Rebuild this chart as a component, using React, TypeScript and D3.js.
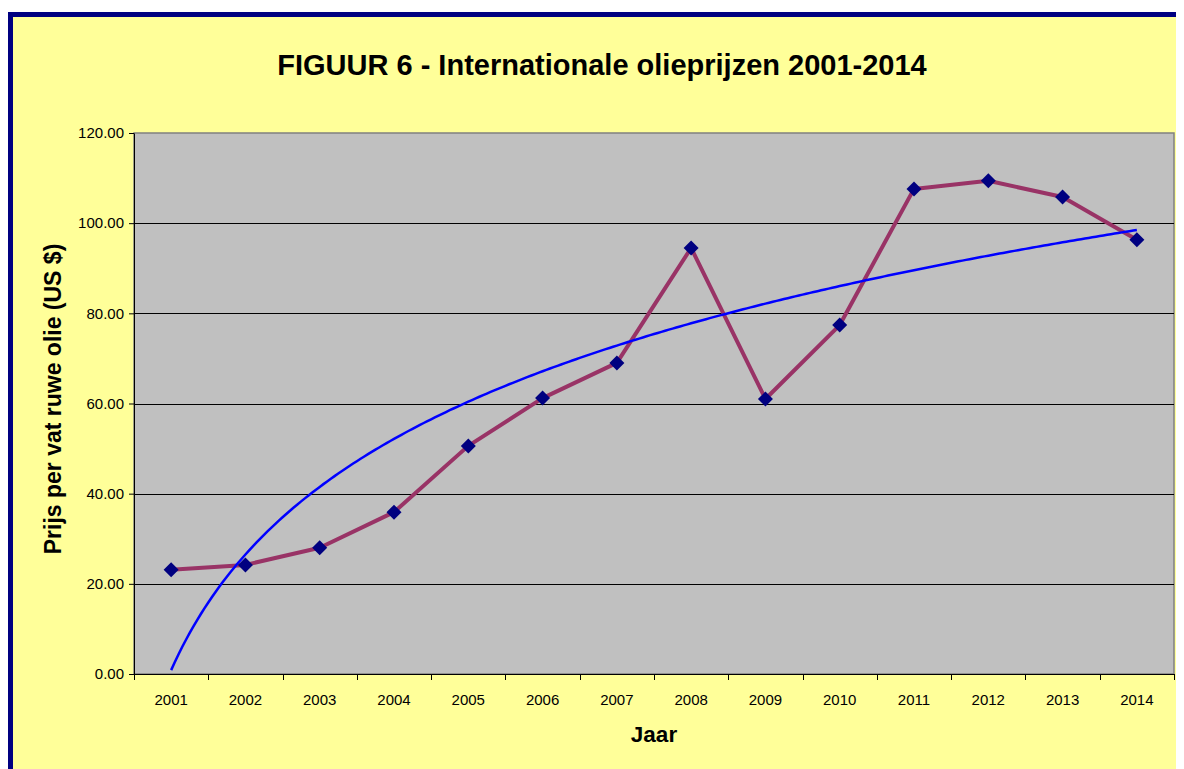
import * as d3 from "d3";
import React, { useEffect, useRef } from "react";

// data
const years = ["2001", "2002", "2003", "2004", "2005", "2006", "2007", "2008", "2009", "2010", "2011", "2012", "2013", "2014"];
const prices = [23.1, 24.2, 28.0, 35.9, 50.6, 61.2, 69.0, 94.5, 61.0, 77.4, 107.6, 109.4, 105.8, 96.3];
const yTicks = [0, 20, 40, 60, 80, 100, 120];

export default function App() {
  const svgRef = useRef<SVGSVGElement>(null);

  useEffect(() => {
    const W = 1176;
    const H = 761;
    const svg = d3.select(svgRef.current).attr("width", W).attr("height", H);
    svg.selectAll("*").remove();

    const font = "Liberation Sans, Arial, sans-serif";
    // page coords minus 8px body margin
    const margin = { top: 125, left: 126 };
    const width = 1040;
    const height = 541;

    // background + frame (right/bottom edges run off the page)
    svg.append("rect")
      .attr("x", 2.5).attr("y", 6.5)
      .attr("width", W + 20).attr("height", H + 20)
      .attr("fill", "#FFFF99")
      .attr("stroke", "#000080")
      .attr("stroke-width", 5);

    svg.append("text")
      .attr("x", 594).attr("y", 67)
      .attr("text-anchor", "middle")
      .attr("font-family", font)
      .attr("font-weight", "bold")
      .attr("font-size", "29px")
      .text("FIGUUR 6 - Internationale olieprijzen 2001-2014");

    const g = svg.append("g").attr("transform", `translate(${margin.left},${margin.top})`);

    const x = d3.scaleBand().domain(years).range([0, width]).padding(0);
    const y = d3.scaleLinear().domain([0, 120]).range([height, 0]);
    const cx = (i: number) => (x(years[i]) as number) + x.bandwidth() / 2;

    g.append("rect")
      .attr("width", width).attr("height", height)
      .attr("fill", "#C0C0C0")
      .attr("stroke", "#808080")
      .attr("stroke-width", 1.5);

    // grid lines
    g.selectAll(".grid")
      .data(yTicks.filter((d) => d > 0 && d < 120))
      .enter()
      .append("line")
      .attr("x1", 0).attr("x2", width)
      .attr("y1", (d) => Math.round(y(d)) + 0.5)
      .attr("y2", (d) => Math.round(y(d)) + 0.5)
      .attr("stroke", "#000000")
      .attr("stroke-width", 1);

    // y axis
    const yAxis = g.append("g")
      .call(d3.axisLeft(y).tickValues(yTicks).tickFormat((d) => (d as number).toFixed(2)).tickSize(5).tickPadding(5));
    yAxis.select(".domain").attr("stroke", "#000").attr("d", `M0.5,0.5V${height}`);
    yAxis.selectAll("line").attr("stroke", "#000");
    yAxis.selectAll("text")
      .attr("font-family", font)
      .attr("font-size", "15px")
      .attr("fill", "#000");

    // x axis: ticks on category boundaries
    const xAxis = g.append("g").attr("transform", `translate(0,${height})`);
    xAxis.append("line")
      .attr("x1", 0).attr("x2", width).attr("y1", 0.5).attr("y2", 0.5)
      .attr("stroke", "#000");
    xAxis.selectAll(".tk")
      .data(d3.range(years.length + 1))
      .enter()
      .append("line")
      .attr("x1", (i) => Math.round(i * x.bandwidth()) + 0.5)
      .attr("x2", (i) => Math.round(i * x.bandwidth()) + 0.5)
      .attr("y1", 0).attr("y2", 6)
      .attr("stroke", "#000");
    xAxis.selectAll(".lbl")
      .data(years)
      .enter()
      .append("text")
      .attr("x", (d, i) => cx(i))
      .attr("y", 31)
      .attr("text-anchor", "middle")
      .attr("font-family", font)
      .attr("font-size", "15px")
      .text((d) => d);

    // axis titles
    svg.append("text")
      .attr("x", 646).attr("y", 734)
      .attr("text-anchor", "middle")
      .attr("font-family", font)
      .attr("font-weight", "bold")
      .attr("font-size", "22.5px")
      .text("Jaar");

    svg.append("text")
      .attr("transform", `translate(53,391) rotate(-90)`)
      .attr("text-anchor", "middle")
      .attr("font-family", font)
      .attr("font-weight", "bold")
      .attr("font-size", "23px")
      .text("Prijs per vat ruwe olie (US $)");

    // price line
    const line = d3.line<number>()
      .x((d, i) => cx(i))
      .y((d) => y(d));

    g.append("path")
      .datum(prices)
      .attr("fill", "none")
      .attr("stroke", "#993366")
      .attr("stroke-width", 4)
      .attr("stroke-linejoin", "round")
      .attr("d", line);

    // logarithmic trend line (least squares on ln(index))
    const lx = prices.map((d, i) => Math.log(i + 1));
    const mx = d3.mean(lx) as number;
    const my = d3.mean(prices) as number;
    const b = d3.sum(lx, (v, i) => (v - mx) * (prices[i] - my)) / d3.sum(lx, (v) => (v - mx) ** 2);
    const a = my - b * mx;
    const trendX = d3.range(1, years.length + 0.001, 0.05);
    const trend = d3.line<number>()
      .x((t) => cx(0) + (t - 1) * x.bandwidth())
      .y((t) => y(a + b * Math.log(t)));

    g.append("path")
      .datum(trendX)
      .attr("fill", "none")
      .attr("stroke", "#0000FF")
      .attr("stroke-width", 2.5)
      .attr("d", trend);

    // diamond markers
    g.selectAll(".pt")
      .data(prices)
      .enter()
      .append("path")
      .attr("transform", (d, i) => `translate(${cx(i)},${y(d)})`)
      .attr("d", "M0,-7.5L7.5,0L0,7.5L-7.5,0Z")
      .attr("fill", "#000080");
  }, []);

  return <svg ref={svgRef} style={{ display: "block" }}></svg>;
}
